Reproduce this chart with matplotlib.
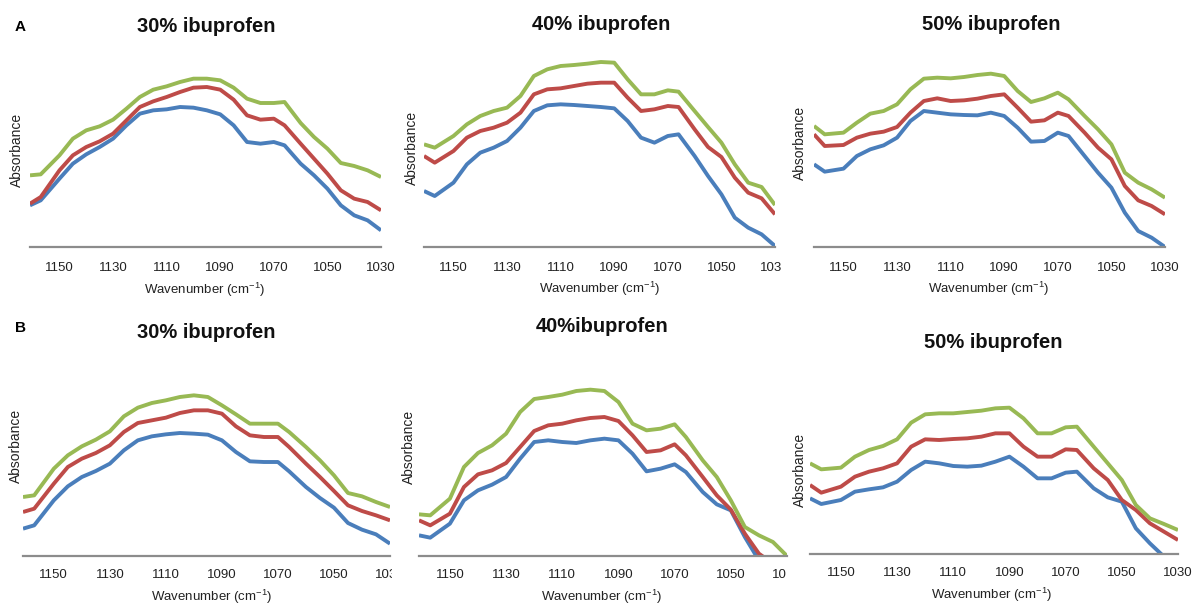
import matplotlib
matplotlib.use("Agg")
import matplotlib.pyplot as plt
from matplotlib.transforms import Bbox, TransformedBbox

plt.rcParams["font.family"] = ["Liberation Sans", "DejaVu Sans"]
plt.rcParams["mathtext.fontset"] = "custom"
plt.rcParams["mathtext.rm"] = "Liberation Sans"

# wavenumber grid (cm-1), shared by all spectra
wavenumber = [1161, 1157, 1150, 1145, 1140, 1135, 1130, 1125, 1120, 1115, 1110,
              1105, 1100, 1095, 1090, 1085, 1080, 1075, 1070, 1066, 1060, 1055,
              1050, 1045, 1040, 1035, 1030]
tick_values = [1150, 1130, 1110, 1090, 1070, 1050, 1030]

titles = ["30% ibuprofen", "40% ibuprofen", "50% ibuprofen",
          "30% ibuprofen", "40%ibuprofen", "50% ibuprofen"]

# row A
a30_blue = [0.125, 0.140, 0.205, 0.250, 0.278, 0.300, 0.325, 0.365, 0.400, 0.410, 0.413, 0.420, 0.418, 0.410,
            0.398, 0.365, 0.315, 0.310, 0.315, 0.305, 0.250, 0.215, 0.175, 0.125, 0.095, 0.080, 0.050]
a30_red = [0.130, 0.150, 0.230, 0.275, 0.300, 0.317, 0.340, 0.380, 0.420, 0.437, 0.450, 0.465, 0.478, 0.480,
           0.472, 0.442, 0.395, 0.382, 0.385, 0.365, 0.310, 0.265, 0.220, 0.170, 0.145, 0.135, 0.110]
a30_green = [0.215, 0.218, 0.275, 0.325, 0.350, 0.362, 0.382, 0.415, 0.450, 0.472, 0.482, 0.495, 0.505, 0.505,
             0.500, 0.478, 0.445, 0.432, 0.432, 0.435, 0.372, 0.330, 0.295, 0.252, 0.243, 0.230, 0.210]

a40_blue = [0.168, 0.153, 0.193, 0.248, 0.283, 0.298, 0.318, 0.358, 0.408, 0.425, 0.428, 0.426, 0.423, 0.420,
            0.416, 0.378, 0.328, 0.313, 0.333, 0.338, 0.273, 0.213, 0.158, 0.088, 0.058, 0.038, 0.003]
a40_red = [0.273, 0.253, 0.288, 0.328, 0.348, 0.358, 0.373, 0.403, 0.458, 0.473, 0.476, 0.483, 0.490, 0.493,
           0.493, 0.448, 0.408, 0.413, 0.423, 0.420, 0.353, 0.300, 0.270, 0.208, 0.163, 0.146, 0.098]
a40_green = [0.308, 0.298, 0.333, 0.368, 0.393, 0.408, 0.418, 0.453, 0.513, 0.533, 0.543, 0.546, 0.550, 0.555,
             0.553, 0.503, 0.458, 0.458, 0.470, 0.466, 0.408, 0.360, 0.313, 0.248, 0.193, 0.180, 0.126]

a50_blue = [0.248, 0.226, 0.235, 0.273, 0.293, 0.305, 0.328, 0.378, 0.408, 0.403, 0.398, 0.396, 0.395, 0.403,
            0.393, 0.358, 0.316, 0.318, 0.343, 0.333, 0.273, 0.223, 0.178, 0.103, 0.048, 0.028, 0.000]
a50_red = [0.338, 0.303, 0.306, 0.328, 0.340, 0.346, 0.360, 0.403, 0.438, 0.446, 0.438, 0.440, 0.445, 0.453,
           0.458, 0.418, 0.376, 0.380, 0.403, 0.393, 0.343, 0.298, 0.263, 0.183, 0.140, 0.123, 0.098]
a50_green = [0.363, 0.338, 0.343, 0.373, 0.400, 0.408, 0.428, 0.473, 0.505, 0.508, 0.506, 0.510, 0.516, 0.520,
             0.513, 0.468, 0.435, 0.446, 0.463, 0.443, 0.393, 0.353, 0.308, 0.223, 0.193, 0.173, 0.148]

# row B
b30_blue = [0.082, 0.092, 0.167, 0.209, 0.237, 0.255, 0.277, 0.317, 0.347, 0.359, 0.365, 0.369, 0.367, 0.364,
            0.347, 0.312, 0.284, 0.282, 0.282, 0.254, 0.207, 0.174, 0.145, 0.099, 0.079, 0.065, 0.037]
b30_red = [0.132, 0.142, 0.217, 0.267, 0.292, 0.309, 0.332, 0.372, 0.399, 0.407, 0.415, 0.429, 0.437, 0.437,
           0.427, 0.389, 0.362, 0.357, 0.357, 0.327, 0.277, 0.237, 0.195, 0.152, 0.135, 0.122, 0.107]
b30_green = [0.177, 0.182, 0.262, 0.302, 0.329, 0.349, 0.374, 0.419, 0.445, 0.459, 0.467, 0.477, 0.482, 0.477,
             0.452, 0.425, 0.397, 0.397, 0.397, 0.372, 0.327, 0.287, 0.242, 0.189, 0.179, 0.162, 0.147]

b40_blue = [0.062, 0.055, 0.097, 0.167, 0.197, 0.214, 0.237, 0.292, 0.342, 0.347, 0.342, 0.339, 0.347, 0.352,
            0.347, 0.307, 0.254, 0.262, 0.275, 0.252, 0.192, 0.155, 0.137, 0.057, -0.013, -0.063, -0.113]
b40_red = [0.107, 0.092, 0.127, 0.207, 0.245, 0.257, 0.279, 0.327, 0.375, 0.392, 0.397, 0.407, 0.414, 0.417,
           0.405, 0.362, 0.312, 0.317, 0.335, 0.302, 0.237, 0.182, 0.139, 0.067, 0.007, -0.023, -0.053]
b40_green = [0.125, 0.122, 0.172, 0.267, 0.309, 0.332, 0.367, 0.432, 0.471, 0.477, 0.484, 0.495, 0.499, 0.495,
             0.462, 0.397, 0.377, 0.382, 0.395, 0.357, 0.287, 0.237, 0.167, 0.087, 0.062, 0.042, 0.000]

b50_blue = [0.167, 0.150, 0.162, 0.187, 0.194, 0.200, 0.217, 0.252, 0.277, 0.272, 0.264, 0.262, 0.265, 0.277,
            0.292, 0.262, 0.227, 0.227, 0.244, 0.247, 0.197, 0.170, 0.157, 0.077, 0.032, -0.008, -0.048]
b50_red = [0.207, 0.184, 0.202, 0.232, 0.247, 0.257, 0.272, 0.322, 0.344, 0.342, 0.345, 0.347, 0.352, 0.362,
           0.362, 0.322, 0.292, 0.292, 0.314, 0.312, 0.257, 0.222, 0.162, 0.132, 0.092, 0.067, 0.042]
b50_green = [0.272, 0.254, 0.259, 0.292, 0.312, 0.324, 0.344, 0.394, 0.419, 0.422, 0.422, 0.426, 0.430, 0.437,
             0.439, 0.407, 0.362, 0.362, 0.380, 0.382, 0.322, 0.272, 0.222, 0.147, 0.107, 0.090, 0.072]

spectra = [(a30_blue, a30_red, a30_green), (a40_blue, a40_red, a40_green), (a50_blue, a50_red, a50_green),
           (b30_blue, b30_red, b30_green), (b40_blue, b40_red, b40_green), (b50_blue, b50_red, b50_green)]
colors = ["#4a7ebb", "#be4b48", "#98b954"]

W, H = 1193, 607
fig = plt.figure(figsize=(W / 100, H / 100), dpi=100)


def fx(x):
    return x / W


def fy(y):
    return 1 - y / H


# axes boxes in pixels: left, right, baseline
boxes = [(30, 381, 247), (424, 775, 247), (814, 1165, 247),
         (23, 390, 556), (419, 787, 556), (810, 1178, 554)]
title_pos = [(206, 27), (601, 25), (991, 25), (206, 332), (602, 327), (993, 342)]
ylabel_pos = [(17, 150), (412, 148), (800, 143), (16, 446), (409, 447), (800, 470)]
xlabel_pos = [(205, 290), (600, 289), (989, 289), (212, 597), (602, 597), (992, 595)]
# right edge of each panel tile; tick text beyond it is cut off
tile_right = [400, 781, 1193, 392, 786, 1193]

for i, (left, right, base) in enumerate(boxes):
    ax = fig.add_axes([fx(left), fy(base), (right - left) / W, 200 / H])
    for y, c in zip(spectra[i], colors):
        ax.plot(wavenumber, y, color=c, lw=2.8, solid_capstyle="butt")
    ax.set_xlim(1161, 1030)
    ax.set_ylim(0, 0.6)
    ax.set_xticks(tick_values)
    ax.set_yticks([])
    ax.tick_params(axis="x", length=0, pad=11 if i < 3 else 9, labelsize=9.5, colors="#222222")
    for s in ["top", "right", "left"]:
        ax.spines[s].set_visible(False)
    ax.spines["bottom"].set_color("#8c8c8c")
    ax.spines["bottom"].set_linewidth(1.6)
    ax.patch.set_alpha(0)

    clip = TransformedBbox(Bbox([[0, 0], [fx(tile_right[i]), 1]]), fig.transFigure)
    for tick in ax.xaxis.get_major_ticks():
        tick.label1.set_clip_box(clip)
        tick.label1.set_clip_on(True)

    fig.text(fx(title_pos[i][0]), fy(title_pos[i][1]), titles[i], ha="center", va="center",
             fontsize=14.5, fontweight="bold", color="#111111")
    fig.text(fx(ylabel_pos[i][0]), fy(ylabel_pos[i][1]), "Absorbance", rotation=90,
             ha="center", va="center", fontsize=10, color="#222222")
    fig.text(fx(xlabel_pos[i][0]), fy(xlabel_pos[i][1]), "Wavenumber (cm$^{-1}$)",
             ha="center", va="center", fontsize=9.5, color="#222222")

fig.text(fx(20), fy(27), "A", ha="center", va="center", fontsize=11, fontweight="bold")
fig.text(fx(20), fy(328), "B", ha="center", va="center", fontsize=11, fontweight="bold")

fig.savefig("out.png", dpi=100)
